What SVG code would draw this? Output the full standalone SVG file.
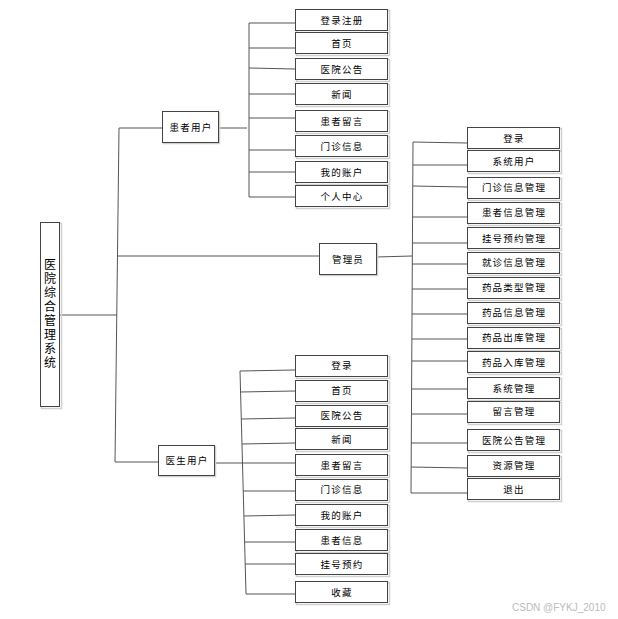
<svg xmlns="http://www.w3.org/2000/svg" width="618" height="619" viewBox="0 0 618 619">
<style>
.b{fill:#fff;stroke:#444;stroke-width:1}
.s{fill:none;stroke:#d0d0d0;stroke-width:1.5}
.t{font-family:"Noto Sans CJK SC","Liberation Sans",sans-serif;font-size:9.5px;letter-spacing:1.2px;fill:#000;text-anchor:middle;dominant-baseline:central}
.r{font-family:"Noto Sans CJK SC","Liberation Sans",sans-serif;font-size:12px;letter-spacing:2px;fill:#000;writing-mode:vertical-rl}
.c line,.c polyline{stroke:#555;stroke-width:1;fill:none}
.w{font-family:"Liberation Sans",sans-serif;font-size:10px;fill:#bbb}
</style>
<rect width="618" height="619" fill="#fff"/>
<g class="c" id="connectors">
<line x1="60" y1="315" x2="117" y2="315"/>
<line x1="119" y1="128" x2="115" y2="462"/>
<line x1="119" y1="128" x2="162" y2="128"/>
<line x1="117" y1="256" x2="319" y2="256"/>
<line x1="115" y1="462" x2="158" y2="462"/>
<line x1="218" y1="128" x2="247" y2="128"/>
<line x1="249" y1="23" x2="249" y2="197"/>
<line x1="249" y1="23" x2="295" y2="23"/>
<line x1="249" y1="48" x2="295" y2="48"/>
<line x1="249" y1="68" x2="295" y2="69"/>
<line x1="249" y1="94" x2="295" y2="94"/>
<line x1="249" y1="118" x2="295" y2="118"/>
<line x1="249" y1="150" x2="295" y2="150"/>
<line x1="249" y1="172" x2="295" y2="172"/>
<line x1="249" y1="197" x2="295" y2="197"/>
<line x1="376" y1="257" x2="412" y2="256"/>
<line x1="413" y1="142" x2="411" y2="493"/>
<line x1="413" y1="142" x2="467" y2="143"/>
<line x1="413" y1="165" x2="467" y2="165"/>
<line x1="413" y1="186" x2="467" y2="187"/>
<line x1="413" y1="217" x2="467" y2="217"/>
<line x1="413" y1="243" x2="467" y2="243"/>
<line x1="412" y1="264" x2="467" y2="264"/>
<line x1="412" y1="289" x2="467" y2="289"/>
<line x1="412" y1="314" x2="467" y2="314"/>
<line x1="412" y1="339" x2="467" y2="339"/>
<line x1="412" y1="361" x2="467" y2="361"/>
<line x1="412" y1="389" x2="467" y2="389"/>
<line x1="412" y1="414" x2="467" y2="414"/>
<line x1="411" y1="443" x2="467" y2="443"/>
<line x1="411" y1="467" x2="467" y2="468"/>
<line x1="411" y1="493" x2="467" y2="493"/>
<line x1="214" y1="463" x2="295" y2="463"/>
<line x1="240" y1="371" x2="246" y2="594"/>
<line x1="240" y1="371" x2="295" y2="370"/>
<line x1="240" y1="392" x2="295" y2="391"/>
<line x1="241" y1="419" x2="295" y2="418"/>
<line x1="242" y1="444" x2="295" y2="443"/>
<line x1="243" y1="491" x2="295" y2="491"/>
<line x1="244" y1="516" x2="295" y2="515"/>
<line x1="244" y1="542" x2="295" y2="542"/>
<line x1="245" y1="564" x2="295" y2="564"/>
<line x1="246" y1="594" x2="295" y2="594"/>
</g>
<g id="root"><rect class="s" x="41.5" y="223.5" width="20" height="185"/><rect class="b" x="40.5" y="222.5" width="19" height="184"/>
<text class="r" x="50" y="258">医院综合管理系统</text></g>
<g id="patient"><rect class="s" x="163.5" y="112.5" width="56" height="31"/><rect class="b" x="162.5" y="111.5" width="56" height="31"/><text class="t" x="191" y="127">患者用户</text></g>
<g id="admin"><rect class="s" x="320.5" y="244.5" width="57" height="31"/><rect class="b" x="319.5" y="243.5" width="57" height="31"/><text class="t" x="348" y="259">管理员</text></g>
<g id="doctor"><rect class="s" x="159.5" y="446.5" width="56" height="30"/><rect class="b" x="158.5" y="445.5" width="56" height="30"/><text class="t" x="187" y="460">医生用户</text></g>
<g id="p1"><rect class="s" x="296.5" y="10.5" width="93" height="22"/><rect class="b" x="295.5" y="9.5" width="92" height="21"/><text class="t" x="342" y="20">登录注册</text></g>
<g id="p2"><rect class="s" x="296.5" y="33.5" width="93" height="22"/><rect class="b" x="295.5" y="32.5" width="92" height="21"/><text class="t" x="342" y="43">首页</text></g>
<g id="p3"><rect class="s" x="296.5" y="59.5" width="93" height="22"/><rect class="b" x="295.5" y="58.5" width="92" height="21"/><text class="t" x="342" y="69">医院公告</text></g>
<g id="p4"><rect class="s" x="296.5" y="84.5" width="93" height="22"/><rect class="b" x="295.5" y="83.5" width="92" height="21"/><text class="t" x="342" y="94">新闻</text></g>
<g id="p5"><rect class="s" x="296.5" y="111.5" width="93" height="22"/><rect class="b" x="295.5" y="110.5" width="92" height="21"/><text class="t" x="342" y="121">患者留言</text></g>
<g id="p6"><rect class="s" x="296.5" y="136.5" width="93" height="22"/><rect class="b" x="295.5" y="135.5" width="92" height="21"/><text class="t" x="342" y="146">门诊信息</text></g>
<g id="p7"><rect class="s" x="296.5" y="162.5" width="93" height="22"/><rect class="b" x="295.5" y="161.5" width="92" height="21"/><text class="t" x="342" y="172">我的账户</text></g>
<g id="p8"><rect class="s" x="296.5" y="186.5" width="93" height="22"/><rect class="b" x="295.5" y="185.5" width="92" height="21"/><text class="t" x="342" y="196">个人中心</text></g>
<g id="a1"><rect class="s" x="468.5" y="128.5" width="93" height="22"/><rect class="b" x="467.5" y="127.5" width="92" height="21"/><text class="t" x="514" y="138">登录</text></g>
<g id="a2"><rect class="s" x="468.5" y="151.5" width="93" height="22"/><rect class="b" x="467.5" y="150.5" width="92" height="21"/><text class="t" x="514" y="161">系统用户</text></g>
<g id="a3"><rect class="s" x="468.5" y="178.5" width="93" height="22"/><rect class="b" x="467.5" y="177.5" width="92" height="21"/><text class="t" x="514" y="187">门诊信息管理</text></g>
<g id="a4"><rect class="s" x="468.5" y="203.5" width="93" height="22"/><rect class="b" x="467.5" y="202.5" width="92" height="21"/><text class="t" x="514" y="212">患者信息管理</text></g>
<g id="a5"><rect class="s" x="468.5" y="228.5" width="93" height="22"/><rect class="b" x="467.5" y="227.5" width="92" height="21"/><text class="t" x="514" y="238">挂号预约管理</text></g>
<g id="a6"><rect class="s" x="468.5" y="253.5" width="93" height="22"/><rect class="b" x="467.5" y="252.5" width="92" height="21"/><text class="t" x="514" y="262">就诊信息管理</text></g>
<g id="a7"><rect class="s" x="468.5" y="278.5" width="93" height="22"/><rect class="b" x="467.5" y="277.5" width="92" height="21"/><text class="t" x="514" y="287">药品类型管理</text></g>
<g id="a8"><rect class="s" x="468.5" y="303.5" width="93" height="22"/><rect class="b" x="467.5" y="302.5" width="92" height="21"/><text class="t" x="514" y="312">药品信息管理</text></g>
<g id="a9"><rect class="s" x="468.5" y="328.5" width="93" height="22"/><rect class="b" x="467.5" y="327.5" width="92" height="21"/><text class="t" x="514" y="337">药品出库管理</text></g>
<g id="a10"><rect class="s" x="468.5" y="352.5" width="93" height="22"/><rect class="b" x="467.5" y="351.5" width="92" height="21"/><text class="t" x="514" y="362">药品入库管理</text></g>
<g id="a11"><rect class="s" x="468.5" y="378.5" width="93" height="22"/><rect class="b" x="467.5" y="377.5" width="92" height="21"/><text class="t" x="514" y="388">系统管理</text></g>
<g id="a12"><rect class="s" x="468.5" y="402.5" width="93" height="22"/><rect class="b" x="467.5" y="401.5" width="92" height="21"/><text class="t" x="514" y="411">留言管理</text></g>
<g id="a13"><rect class="s" x="468.5" y="430.5" width="93" height="22"/><rect class="b" x="467.5" y="429.5" width="92" height="21"/><text class="t" x="514" y="440">医院公告管理</text></g>
<g id="a14"><rect class="s" x="468.5" y="456.5" width="93" height="22"/><rect class="b" x="467.5" y="455.5" width="92" height="21"/><text class="t" x="514" y="465">资源管理</text></g>
<g id="a15"><rect class="s" x="468.5" y="479.5" width="93" height="22"/><rect class="b" x="467.5" y="478.5" width="92" height="21"/><text class="t" x="514" y="489">退出</text></g>
<g id="d1"><rect class="s" x="296.5" y="356.5" width="93" height="22"/><rect class="b" x="295.5" y="355.5" width="92" height="21"/><text class="t" x="342" y="365">登录</text></g>
<g id="d2"><rect class="s" x="296.5" y="381.5" width="93" height="22"/><rect class="b" x="295.5" y="380.5" width="92" height="21"/><text class="t" x="342" y="390">首页</text></g>
<g id="d3"><rect class="s" x="296.5" y="406.5" width="93" height="22"/><rect class="b" x="295.5" y="405.5" width="92" height="21"/><text class="t" x="342" y="415">医院公告</text></g>
<g id="d4"><rect class="s" x="296.5" y="429.5" width="93" height="22"/><rect class="b" x="295.5" y="428.5" width="92" height="21"/><text class="t" x="342" y="439">新闻</text></g>
<g id="d5"><rect class="s" x="296.5" y="455.5" width="93" height="22"/><rect class="b" x="295.5" y="454.5" width="92" height="21"/><text class="t" x="342" y="465">患者留言</text></g>
<g id="d6"><rect class="s" x="296.5" y="480.5" width="93" height="22"/><rect class="b" x="295.5" y="479.5" width="92" height="21"/><text class="t" x="342" y="489">门诊信息</text></g>
<g id="d7"><rect class="s" x="296.5" y="505.5" width="93" height="22"/><rect class="b" x="295.5" y="504.5" width="92" height="21"/><text class="t" x="342" y="515">我的账户</text></g>
<g id="d8"><rect class="s" x="296.5" y="530.5" width="93" height="22"/><rect class="b" x="295.5" y="529.5" width="92" height="21"/><text class="t" x="342" y="540">患者信息</text></g>
<g id="d9"><rect class="s" x="296.5" y="554.5" width="93" height="22"/><rect class="b" x="295.5" y="553.5" width="92" height="21"/><text class="t" x="342" y="564">挂号预约</text></g>
<g id="d10"><rect class="s" x="296.5" y="582.5" width="93" height="22"/><rect class="b" x="295.5" y="581.5" width="92" height="21"/><text class="t" x="342" y="592">收藏</text></g>
<text class="w" x="512" y="611">CSDN @FYKJ_2010</text>
</svg>
